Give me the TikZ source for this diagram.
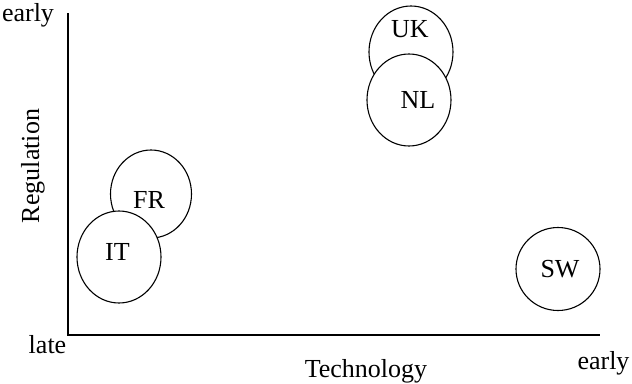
\documentclass[tikz,border=0pt]{standalone}
\usepackage{fontspec}
\setmainfont{Liberation Serif}
\usetikzlibrary{shapes.geometric}

\begin{document}
\begin{tikzpicture}[x=1pt,y=-1pt,line width=1.1pt,
    font=\fontsize{26}{31}\selectfont,
    country/.style={ellipse,draw,fill=white,inner sep=0pt,minimum width=84pt,minimum height=92pt},
    lbl/.style={anchor=base,inner sep=0pt}]
  \useasboundingbox (0,0) rectangle (632,383);

  %------ axes
  \coordinate (top) at (68,13);
  \coordinate (origin) at (68,335);
  \coordinate (right) at (600,335);
  \draw (top) -- (origin) -- (right);

  \node[lbl] (regearly) at (28,21) {early};
  \node[lbl] (late) at (47.5,353) {late};
  \node[lbl] (techearly) at (603.5,369) {early};
  \node[lbl] (tech) at (366,377) {Technology};
  \node[lbl,rotate=90] (reg) at (39,166) {Regulation};

  %------ countries
  \node[country] (uk) at (411,52) {};
  \node[lbl] at (410,37) {UK};
  \node[country] (nl) at (409,100) {};
  \node[lbl] at (418,108) {NL};

  \node[country,minimum width=81pt,minimum height=88pt] (fr) at (151,194) {};
  \node[lbl] at (149,208) {FR};
  \node[country] (it) at (119,257) {};
  \node[lbl] at (117.5,260) {IT};

  \node[country,minimum height=83pt] (sw) at (558,269) {};
  \node[lbl] at (560,277) {SW};

\end{tikzpicture}
\end{document}
